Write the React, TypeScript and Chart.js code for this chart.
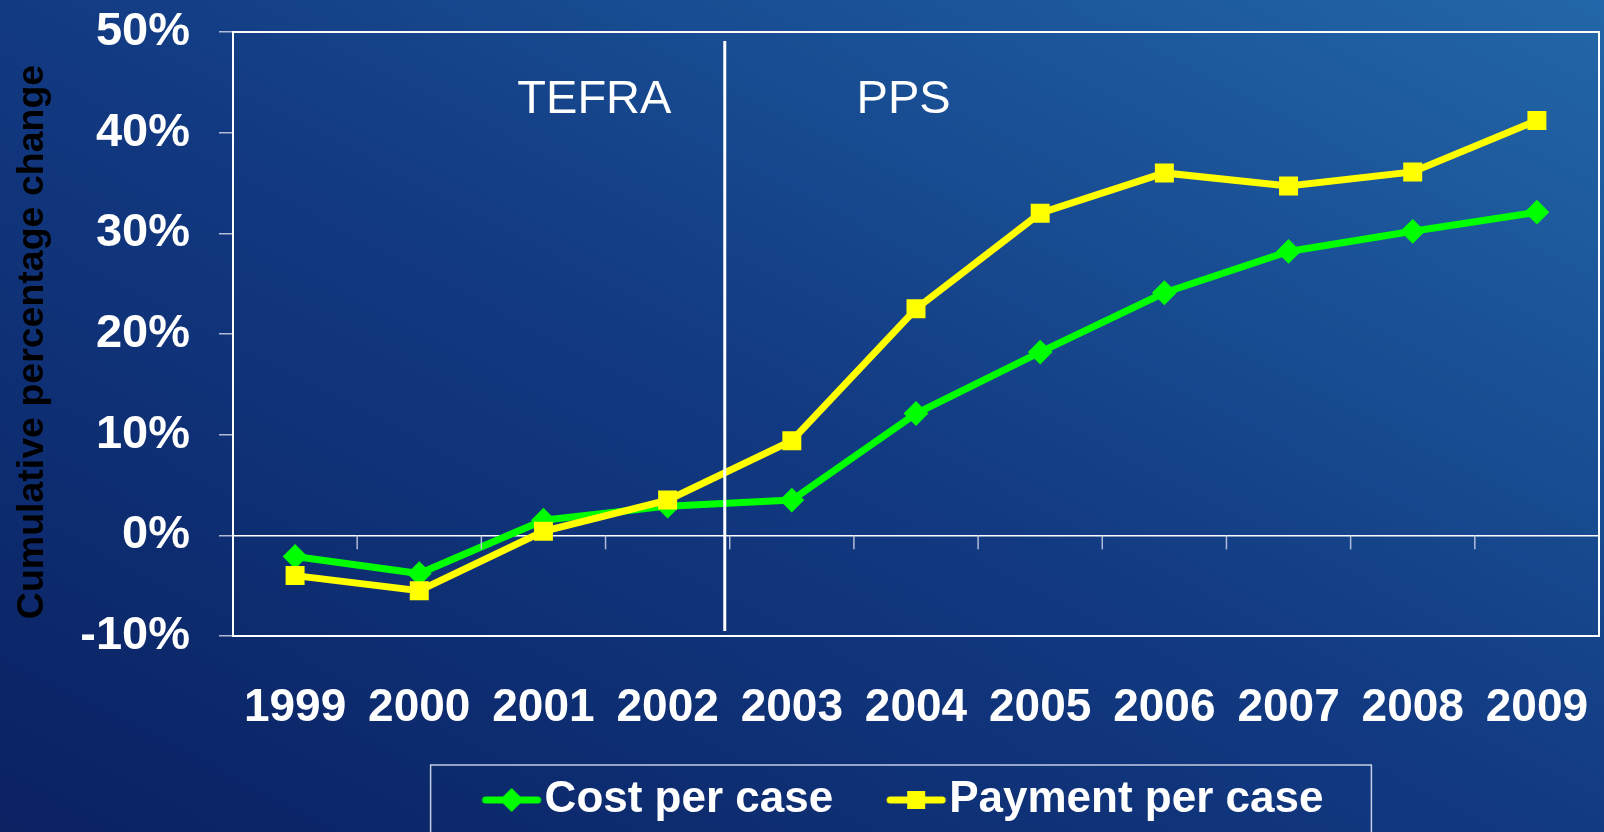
import React, { useEffect, useRef } from 'react';
import { Chart, registerables } from 'chart.js';

Chart.register(...registerables);

// ---- data ----
const years = ['1999', '2000', '2001', '2002', '2003', '2004', '2005', '2006', '2007', '2008', '2009'];
const costPerCase = [-2.1, -3.8, 1.5, 2.9, 3.5, 12.1, 18.2, 24.1, 28.2, 30.2, 32.1];
const paymentPerCase = [-4.0, -5.5, 0.4, 3.5, 9.4, 22.5, 32.0, 36.0, 34.7, 36.1, 41.2];
const yMin = -10;
const yMax = 50;
const yStep = 10;
const seriesNames = ['Cost per case', 'Payment per case'];
const yTitle = 'Cumulative percentage change';
const eraLabels = ['TEFRA', 'PPS'];
const eraLabelX = [2.41, 4.9]; // category index positions
const eraLabelY = 43.2; // percent
const eraDividerX = 3.46; // category index position of the divider

const FONT = "'Liberation Sans', Arial, Helvetica, sans-serif";
const GREEN = '#00ff00';
const YELLOW = '#ffff00';

function makeMarker(color: string, kind: 'diamond' | 'square'): HTMLCanvasElement {
  const c = document.createElement('canvas');
  c.width = 80;
  c.height = 30;
  const g = c.getContext('2d')!;
  const cx = 36;
  const cy = 15;
  g.strokeStyle = color;
  g.fillStyle = color;
  g.lineWidth = 7;
  g.lineCap = 'round';
  g.beginPath();
  g.moveTo(cx - 26, cy);
  g.lineTo(cx + 26, cy);
  g.stroke();
  g.beginPath();
  if (kind === 'diamond') {
    const r = 12;
    g.moveTo(cx, cy - r);
    g.lineTo(cx + r, cy);
    g.lineTo(cx, cy + r);
    g.lineTo(cx - r, cy);
    g.closePath();
  } else {
    const h = 9;
    g.rect(cx - h, cy - h, 2 * h, 2 * h);
  }
  g.fill();
  return c;
}

const overlayPlugin = {
  id: 'overlay',
  afterLayout(chart: any) {
    // let the year labels extend below the axis box (they sit over the legend's empty top area)
    const s = chart.scales.x;
    if (s) s.bottom = s.top + 120;
    // centre the rotated axis title slightly lower, as in the original
    const ys = chart.scales.y;
    if (ys) ys.bottom = ys.bottom + 16;
  },
  afterDatasetsDraw(chart: any) {
    const { ctx, chartArea } = chart;
    const x = chart.scales.x;
    const y = chart.scales.y;
    ctx.save();
    // tick marks on the zero line at category boundaries
    const y0 = y.getPixelForValue(0);
    ctx.strokeStyle = 'rgba(195,202,222,0.9)';
    ctx.lineWidth = 1.5;
    for (let i = 0; i < years.length - 1; i++) {
      const px = (x.getPixelForValue(i) + x.getPixelForValue(i + 1)) / 2;
      ctx.beginPath();
      ctx.moveTo(px, y0);
      ctx.lineTo(px, y0 + 14);
      ctx.stroke();
    }
    // plot border
    ctx.strokeStyle = '#ffffff';
    ctx.lineWidth = 2;
    ctx.strokeRect(chartArea.left, chartArea.top, chartArea.right - chartArea.left, chartArea.bottom - chartArea.top);
    // divider between eras
    const dx = x.getPixelForValue(eraDividerX);
    ctx.lineWidth = 3;
    ctx.beginPath();
    ctx.moveTo(dx, chartArea.top + 9);
    ctx.lineTo(dx, chartArea.bottom - 5);
    ctx.stroke();
    // era labels
    ctx.fillStyle = '#ffffff';
    ctx.font = `47px ${FONT}`;
    ctx.textAlign = 'center';
    ctx.textBaseline = 'middle';
    eraLabels.forEach((t, i) => {
      ctx.fillText(t, x.getPixelForValue(eraLabelX[i]), y.getPixelForValue(eraLabelY));
    });
    ctx.restore();
  },
  afterDraw(chart: any) {
    const lg = chart.legend;
    if (!lg || !lg.legendHitBoxes || !lg.legendHitBoxes.length) return;
    const hb = lg.legendHitBoxes;
    const first = hb[0];
    const last = hb[hb.length - 1];
    const { ctx } = chart;
    ctx.save();
    ctx.strokeStyle = 'rgba(215,222,240,0.9)';
    ctx.lineWidth = 1.5;
    const left = first.left - 78;
    const right = last.left + last.width + 48;
    const top = first.top - 13;
    ctx.strokeRect(left, top, right - left, 200);
    ctx.restore();
  },
};

export default function App() {
  const ref = useRef<HTMLCanvasElement | null>(null);

  useEffect(() => {
    document.body.style.margin = '0';
    const canvas = ref.current!;
    const markers = [makeMarker(YELLOW, 'square'), makeMarker(GREEN, 'diamond')];
    const chart = new Chart(canvas, {
      type: 'line',
      data: {
        labels: years,
        datasets: [
          {
            label: seriesNames[1],
            data: paymentPerCase,
            borderColor: YELLOW,
            backgroundColor: YELLOW,
            borderWidth: 7,
            pointStyle: 'rect',
            pointRadius: 12,
            pointBorderWidth: 2,
            pointBackgroundColor: YELLOW,
            pointBorderColor: YELLOW,
            tension: 0,
          },
          {
            label: seriesNames[0],
            data: costPerCase,
            borderColor: GREEN,
            backgroundColor: GREEN,
            borderWidth: 7,
            pointStyle: 'rectRot',
            pointRadius: 11,
            pointBorderWidth: 2,
            pointBackgroundColor: GREEN,
            pointBorderColor: GREEN,
            tension: 0,
          },
        ],
      },
      options: {
        responsive: false,
        animation: false,
        devicePixelRatio: 1,
        layout: { autoPadding: false, padding: { left: 0, right: 5, top: 32, bottom: 0 } },
        scales: {
          x: {
            type: 'category',
            offset: true,
            grid: {
              display: true,
              drawOnChartArea: false,
              drawTicks: true,
              tickLength: 45,
              tickColor: 'rgba(0,0,0,0)',
              color: 'rgba(0,0,0,0)',
            },
            border: { display: false },
            ticks: {
              color: '#ffffff',
              font: { family: FONT, size: 46, weight: 'bold' },
              padding: 0,
              maxRotation: 0,
              autoSkip: false,
            },
            afterFit: (s: any) => {
              s.height = 62;
              s.paddingLeft = 0;
              s.paddingRight = 0;
            },
          },
          y: {
            min: yMin,
            max: yMax,
            border: { display: false },
            grid: {
              drawOnChartArea: true,
              color: (c: any) => (c.tick && c.tick.value === 0 ? '#ffffff' : 'rgba(0,0,0,0)'),
              tickColor: 'rgba(195,202,222,0.9)',
              tickLength: 43,
              tickBorderDash: [0, 29, 14, 100],
              lineWidth: 1.5,
            },
            ticks: {
              stepSize: yStep,
              color: '#ffffff',
              font: { family: FONT, size: 47, weight: 'bold' },
              padding: 0,
              callback: (v: any) => `${v}%`,
            },
            title: {
              display: true,
              text: yTitle,
              color: '#000000',
              font: { family: FONT, size: 37.5, weight: 'bold' },
              padding: { top: 10, bottom: 0 },
            },
            afterFit: (s: any) => {
              s.width = 233;
            },
          },
        },
        plugins: {
          tooltip: { enabled: false },
          legend: {
            position: 'bottom',
            fullSize: false,
            labels: {
              usePointStyle: true,
              pointStyleWidth: 14,
              padding: 80,
              color: '#ffffff',
              font: { family: FONT, size: 44, weight: 'bold' },
              generateLabels: (ch: any) => {
                const items = (Chart.defaults.plugins.legend.labels as any).generateLabels(ch);
                items.forEach((it: any) => {
                  it.pointStyle = markers[it.datasetIndex];
                  it.fontColor = '#ffffff';
                });
                return items.sort((a: any, b: any) => b.datasetIndex - a.datasetIndex);
              },
            },
          },
        },
      } as any,
      plugins: [overlayPlugin],
    });
    return () => chart.destroy();
  }, []);

  return (
    <div
      style={{
        position: 'fixed',
        left: 0,
        top: 0,
        width: 1604,
        height: 832,
        background: 'linear-gradient(to top right, #0a2162 0%, #123a82 50%, #2267a9 100%)',
        overflow: 'hidden',
      }}
    >
      <canvas ref={ref} width={1604} height={832} style={{ display: 'block', width: 1604, height: 832 }} />
    </div>
  );
}
